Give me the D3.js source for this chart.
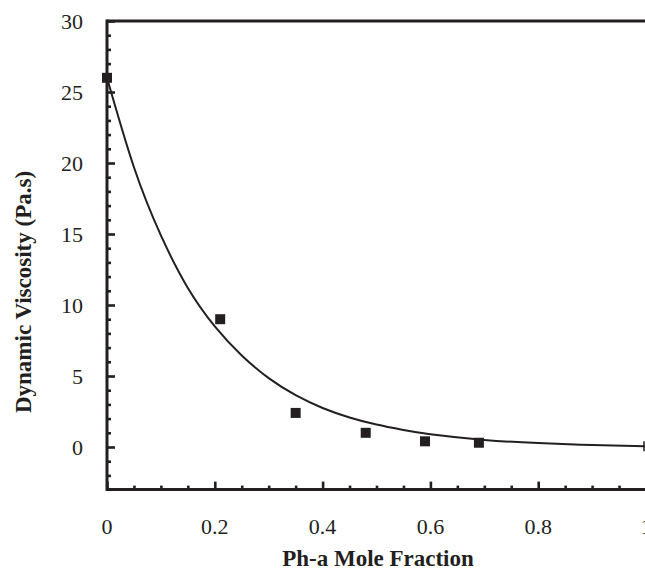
<!DOCTYPE html>
<html><head><meta charset="utf-8">
<script src="https://cdn.jsdelivr.net/npm/d3@7"></script>
<style>body{margin:0;background:#fff}svg{display:block}text{font-family:"Liberation Serif","Times New Roman",serif;fill:#231f20}</style>
</head><body><svg id="c" width="645" height="575"></svg>
<script>
const moleFraction = [0, 0.21, 0.35, 0.48, 0.59, 0.69];
const viscosity = [26, 9, 2.4, 1.0, 0.4, 0.3];
const fitX = [0, 0.05, 0.1, 0.15, 0.2, 0.25, 0.3, 0.35, 0.4, 0.45, 0.5, 0.55, 0.6, 0.7, 0.8, 0.9, 1.0];
const fitY = [26, 19.7, 14.9, 11.2, 8.5, 6.45, 4.85, 3.65, 2.75, 2.08, 1.58, 1.2, 0.9, 0.5, 0.28, 0.14, 0.06];
const xTicks = [0, 0.2, 0.4, 0.6, 0.8, 1];
const yTicks = [0, 5, 10, 15, 20, 25, 30];
const xTickLabels = ["0", "0.2", "0.4", "0.6", "0.8", "1"];
const yTickLabels = ["0", "5", "10", "15", "20", "25", "30"];

const ink = "#231f20";
const svg = d3.select("#c");
const x = d3.scaleLinear().domain([0, 1]).range([107, 646]);
const y = d3.scaleLinear().domain([-3, 30]).range([489.6, 21]);

const yMinor = d3.range(-2, 30, 1).filter(v => v % 5 !== 0);
const xMinor = d3.range(0.05, 1.0, 0.05).filter(v => Math.abs(v / 0.2 - Math.round(v / 0.2)) > 1e-6);

const gy = svg.append("g").attr("transform", `translate(${x(0)},0)`).call(d3.axisRight(y).tickValues(yTicks).tickSize(8).tickFormat(""));
const gyMinor = svg.append("g").attr("transform", `translate(${x(0)},0)`).call(d3.axisRight(y).tickValues(yMinor).tickSize(4).tickFormat(""));
const gx = svg.append("g").attr("transform", `translate(0,${y(-3)})`).call(d3.axisTop(x).tickValues(xTicks).tickSize(8).tickFormat(""));
const gxMinor = svg.append("g").attr("transform", `translate(0,${y(-3)})`).call(d3.axisTop(x).tickValues(xMinor).tickSize(4).tickFormat(""));
[gy, gyMinor, gx, gxMinor].forEach(g => {
  g.select(".domain").remove();
  g.selectAll("line").attr("stroke", ink).attr("stroke-width", 2.6);
});

svg.append("line").attr("x1", x(0)).attr("x2", x(0)).attr("y1", y(30) - 1.5).attr("y2", y(-3) + 1.5).attr("stroke", ink).attr("stroke-width", 3);
svg.append("line").attr("x1", x(0)).attr("x2", 645).attr("y1", y(30)).attr("y2", y(30)).attr("stroke", ink).attr("stroke-width", 3);
svg.append("line").attr("x1", x(0)).attr("x2", 645).attr("y1", y(-3)).attr("y2", y(-3)).attr("stroke", ink).attr("stroke-width", 3);

svg.append("g").selectAll("text").data(yTicks).join("text")
  .attr("x", 83).attr("y", d => y(d)).attr("dy", "0.35em").attr("text-anchor", "end")
  .attr("font-size", 22).text((d, i) => yTickLabels[i]);
svg.append("g").selectAll("text").data(xTicks).join("text")
  .attr("x", d => x(d)).attr("y", 526).attr("dy", "0.35em").attr("text-anchor", "middle")
  .attr("font-size", 22).text((d, i) => xTickLabels[i]);

svg.append("text").attr("transform", "translate(31,292) rotate(-90)").attr("text-anchor", "middle")
  .attr("font-size", 23).attr("font-weight", "bold").text("Dynamic Viscosity (Pa.s)");
svg.append("text").attr("x", 378).attr("y", 566).attr("text-anchor", "middle")
  .attr("font-size", 23).attr("font-weight", "bold").text("Ph-a Mole Fraction");

const fit = fitX.map((v, i) => [v, fitY[i]]);
svg.append("path").datum(fit)
  .attr("d", d3.line().x(d => x(d[0])).y(d => y(d[1])).curve(d3.curveNatural))
  .attr("fill", "none").attr("stroke", ink).attr("stroke-width", 2);
svg.append("line").attr("x1", x(1) - 2).attr("x2", x(1) - 2).attr("y1", y(fitY[fitY.length - 1]) - 5).attr("y2", y(fitY[fitY.length - 1]) + 5).attr("stroke", ink).attr("stroke-width", 1.5);

const s = 10;
svg.append("g").selectAll("rect").data(moleFraction).join("rect")
  .attr("x", d => x(d) - s / 2).attr("y", (d, i) => y(viscosity[i]) - s / 2)
  .attr("width", s).attr("height", s).attr("fill", ink);
</script></body></html>
